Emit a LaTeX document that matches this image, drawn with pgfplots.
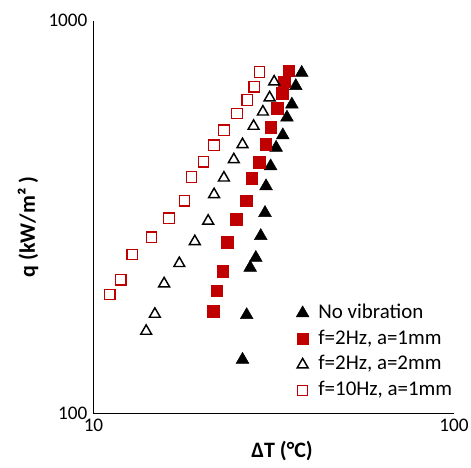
\documentclass[border=0pt]{standalone}
\usepackage{fontspec}
\setmainfont{Carlito}
\usepackage{pgfplots}
\pgfplotsset{compat=1.18}
\definecolor{DarkRed}{HTML}{C00000}

% q (kW/m^2) against Delta T (deg C)
\pgfplotstableread{
x y
37.8 737
36.4 682
35.5 612
34.4 567
33.5 511
32.1 475
31.0 426
30.1 379
29.9 324
29.1 283
28.2 249
27.2 235
26.6 178
25.9 137
}\novib
\pgfplotstableread{
x y
34.8 745
33.8 699
33.4 653
32.3 598
31.0 535
30.0 484
28.8 436
27.5 397
26.5 348
24.9 312
23.5 273
22.8 230
22.0 205
21.5 182
}\fA
\pgfplotstableread{
x y
31.7 699
30.8 637
29.5 586
27.8 539
25.9 484
24.5 443
23.0 398
21.6 361
20.8 309
19.1 274
17.3 241
15.7 214
14.8 179
14.0 162
}\fB
\pgfplotstableread{
x y
28.9 740
27.9 679
26.7 628
25.0 581
23.0 526
21.6 482
20.2 437
18.7 400
17.9 348
16.2 314
14.5 281
12.8 254
11.9 219
11.1 201
}\fC

\begin{document}
\begin{tikzpicture}
\useasboundingbox (-70.1pt,-40.3pt) rectangle (283.1pt,310pt);
\begin{axis}[
  scale only axis,width=270.4pt,height=294.45pt,
  xmode=log,ymode=log,
  xmin=10,xmax=100,ymin=100,ymax=1000,
  xtick={10,100},xticklabels={10,100},
  ytick={100,1000},yticklabels={100,1000},
  minor tick num=0,
  axis lines=left,axis line style={-,line width=1pt},
  major tick length=0pt,minor tick length=0pt,
  /pgf/number format/assume math mode=true,
  tick label style={font=\fontsize{14.4}{17}\selectfont},
  xticklabel style={yshift=-1pt},
  yticklabel style={xshift=-1pt},
  xlabel={\textbf{ΔT (°C)}},
  ylabel={\textbf{q (kW/m² )}},
  label style={font=\fontsize{16.5}{19}\selectfont},
  xlabel style={at={(axis description cs:0.523,-0.096)},anchor=center},
  ylabel style={at={(axis description cs:-0.1815,0.4745)},anchor=center},
  legend style={at={(axis description cs:0.5617,0.286)},anchor=north west,
    draw=none,fill=none,inner sep=0pt,column sep=5pt,row sep=1.5pt,
    font=\fontsize{15.7}{18}\selectfont,
    nodes={inner sep=2pt,text height=10.8pt,text depth=3pt}},
  legend cell align=left,
  legend image code/.code={\draw[#1] plot coordinates {(0pt,0pt)};},
]
\addplot[only marks,mark=triangle*,mark size=5.5pt,draw=black,fill=black] table {\novib};
\addlegendentry{No vibration}
\addplot[only marks,mark=square*,mark size=4.3pt,draw=DarkRed,fill=DarkRed] table {\fA};
\addlegendentry{f=2Hz, a=1mm}
\addplot[only marks,mark=triangle,mark size=4.7pt,draw=black,line width=1.1pt] table {\fB};
\addlegendentry{f=2Hz, a=2mm}
\addplot[only marks,mark=square,mark size=3.9pt,draw=DarkRed,line width=0.9pt] table {\fC};
\addlegendentry{f=10Hz, a=1mm}
\end{axis}
\end{tikzpicture}
\end{document}
